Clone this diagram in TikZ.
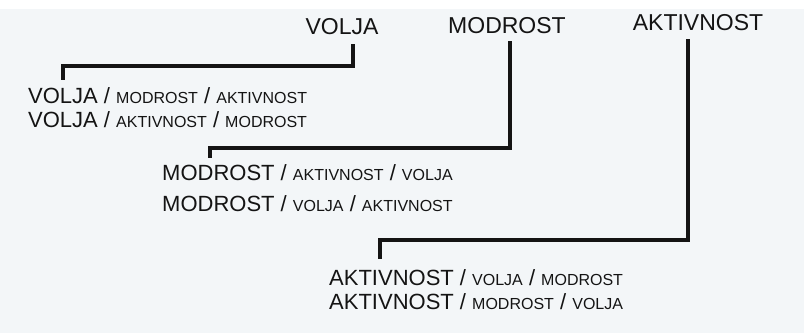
\documentclass[tikz,border=0pt]{standalone}
\usepackage{fontspec}
\setmainfont{Liberation Sans}
\definecolor{paper}{RGB}{243,246,248}
\definecolor{ink}{RGB}{20,20,20}
\newcommand{\sm}[1]{{\fontsize{16}{16}\selectfont #1}}
\tikzset{
  head/.style={text=ink,inner sep=1pt,font=\fontsize{23}{24}\selectfont},
  pick/.style={text=ink,anchor=north west,align=left,inner sep=1pt,font=\fontsize{22}{24}\selectfont},
  bar/.style={draw=ink,line width=4pt}
}
\begin{document}
\begin{tikzpicture}[x=1pt,y=-1pt]
\useasboundingbox (0,0) rectangle (804,333);
\fill[paper] (0,9) rectangle (804,333);
% headings
\node[head] (hV) at (342,27) {VOLJA};
\node[head] (hM) at (507,26) {MODROST};
\node[head] (hA) at (698,23) {AKTIVNOST};
% orderings
\node[pick] (bV) at (27,86) {VOLJA / \sm{MODROST} / \sm{AKTIVNOST}\\ VOLJA / \sm{AKTIVNOST} / \sm{MODROST}};
\node[pick] (bM) at (161,163) {MODROST / \sm{AKTIVNOST} / \sm{VOLJA}\\[7pt] MODROST / \sm{VOLJA} / \sm{AKTIVNOST}};
\node[pick] (bA) at (328,268) {AKTIVNOST / \sm{VOLJA} / \sm{MODROST}\\ AKTIVNOST / \sm{MODROST} / \sm{VOLJA}};
% brackets
\coordinate (cV) at (63,80);
\coordinate (cM) at (210,158);
\coordinate (cA) at (380,259);
\draw[bar] ([xshift=11pt,yshift=-8pt]hV.south) -- ++(0,22) -| (cV);
\draw[bar] ([xshift=3pt,yshift=-6pt]hM.south) -- (510,148) -| (cM);
\draw[bar] ([xshift=-10pt,yshift=-7pt]hA.south) -- (688,240) -| (cA);
\end{tikzpicture}
\end{document}
